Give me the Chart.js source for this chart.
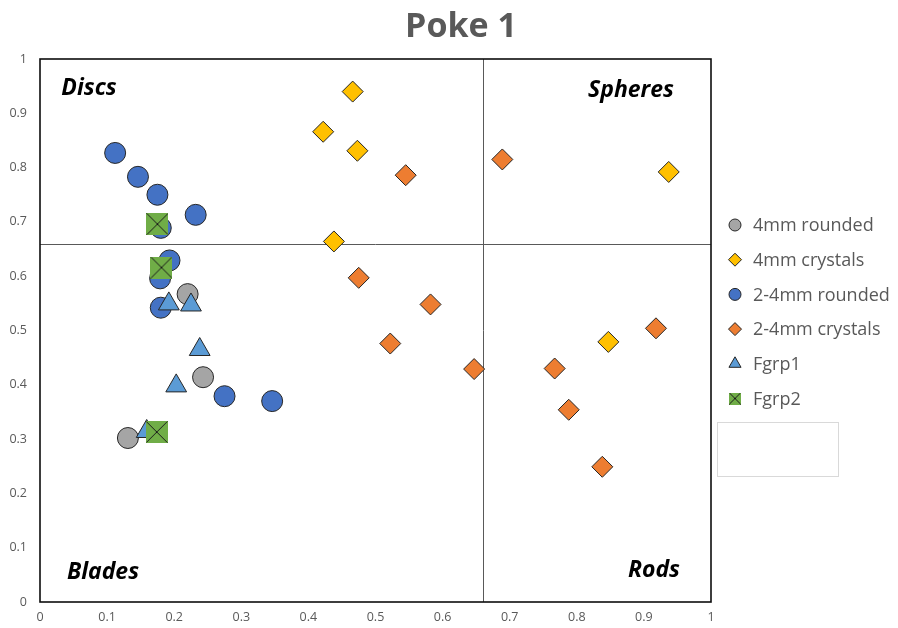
<!DOCTYPE html>
<html>
<head>
<meta charset="utf-8">
<script src="https://cdn.jsdelivr.net/npm/chart.js@4.4.1/dist/chart.umd.min.js"></script>
<style>
  html, body { margin: 0; padding: 0; background: #ffffff; }
  #wrap { width: 898px; height: 628px; }
</style>
</head>
<body>
<div id="wrap"><canvas id="c" width="898" height="628"></canvas></div>
<script>
// Shape factors (x = flatness-type index, y = elongation-type index) for each sample group
const seriesNames = ['4mm rounded', '4mm crystals', '2-4mm rounded', '2-4mm crystals', 'Fgrp1', 'Fgrp2'];

const rounded4X = [0.220, 0.243, 0.131];
const rounded4Y = [0.567, 0.414, 0.302];

const crystals4X = [0.466, 0.422, 0.473, 0.937, 0.438, 0.847];
const crystals4Y = [0.940, 0.866, 0.831, 0.792, 0.664, 0.479];

const rounded24X = [0.112, 0.146, 0.175, 0.232, 0.180, 0.193, 0.179, 0.180, 0.275, 0.346];
const rounded24Y = [0.827, 0.783, 0.750, 0.713, 0.689, 0.629, 0.596, 0.542, 0.379, 0.370];

const crystals24X = [0.545, 0.689, 0.475, 0.582, 0.522, 0.647, 0.767, 0.918, 0.788, 0.838];
const crystals24Y = [0.786, 0.815, 0.597, 0.548, 0.476, 0.429, 0.430, 0.504, 0.354, 0.249];

const fgrp1X = [0.192, 0.225, 0.238, 0.203, 0.159];
const fgrp1Y = [0.549, 0.547, 0.465, 0.398, 0.314];

const fgrp2X = [0.175, 0.181, 0.174];
const fgrp2Y = [0.696, 0.616, 0.313];

const tickLabels = ['0', '0.1', '0.2', '0.3', '0.4', '0.5', '0.6', '0.7', '0.8', '0.9', '1'];
const quadrantSplit = 0.66;
const quadrantNames = ['Discs', 'Spheres', 'Blades', 'Rods'];
const chartTitle = 'Poke 1';

const FONT = '"Open Sans", "DejaVu Sans", sans-serif';
const TEXT_GREY = '#595959';
const EDGE = '#262626';

function toPoints(xs, ys) {
  return xs.map((x, i) => ({ x: x, y: ys[i] }));
}

// Green square with a black X, used as the Fgrp2 marker
function boxCross(size) {
  const cv = document.createElement('canvas');
  cv.width = size; cv.height = size;
  const g = cv.getContext('2d');
  g.fillStyle = '#70AD47';
  g.fillRect(0, 0, size, size);
  g.strokeStyle = '#1a1a1a';
  g.lineWidth = 1;
  g.beginPath();
  g.moveTo(0.5, 0.5); g.lineTo(size - 0.5, size - 0.5);
  g.moveTo(size - 0.5, 0.5); g.lineTo(0.5, size - 0.5);
  g.stroke();
  return cv;
}
const crossBig = boxCross(22);
const crossSmall = boxCross(12);

const styles = [
  { fill: '#A5A5A5', shape: 'circle', r: 10.5, lr: 6 },
  { fill: '#FFC000', shape: 'rectRot', r: 10.5, lr: 6.5 },
  { fill: '#4472C4', shape: 'circle', r: 10.5, lr: 6 },
  { fill: '#ED7D31', shape: 'rectRot', r: 10.5, lr: 6.5 },
  { fill: '#5B9BD5', shape: 'triangle', r: 12, lr: 7 },
  { fill: '#70AD47', shape: crossBig, r: 11, lr: 6 }
];

const seriesData = [
  toPoints(rounded4X, rounded4Y),
  toPoints(crystals4X, crystals4Y),
  toPoints(rounded24X, rounded24Y),
  toPoints(crystals24X, crystals24Y),
  toPoints(fgrp1X, fgrp1Y),
  toPoints(fgrp2X, fgrp2Y)
];

const datasets = seriesNames.map((name, i) => ({
  label: name,
  data: seriesData[i],
  pointStyle: styles[i].shape,
  pointRadius: styles[i].r,
  pointHoverRadius: styles[i].r,
  pointBackgroundColor: styles[i].fill,
  pointBorderColor: EDGE,
  pointBorderWidth: 1,
  showLine: false,
  order: seriesNames.length - i   // later groups sit on top
}));

// Plot frame, quadrant dividers, labels, title and legend
const decorations = {
  id: 'decorations',
  beforeDatasetsDraw(chart) {
    const { ctx, chartArea: a, scales } = chart;
    const qx = scales.x.getPixelForValue(quadrantSplit);
    const qy = scales.y.getPixelForValue(quadrantSplit);
    ctx.save();
    ctx.strokeStyle = '#595959';
    ctx.lineWidth = 1;
    ctx.beginPath();
    ctx.moveTo(Math.round(qx) + 0.5, a.top);
    ctx.lineTo(Math.round(qx) + 0.5, a.bottom);
    ctx.moveTo(a.left, Math.round(qy) + 0.5);
    ctx.lineTo(a.right, Math.round(qy) + 0.5);
    ctx.stroke();

    ctx.strokeStyle = '#0d0d0d';
    ctx.lineWidth = 1.6;
    ctx.strokeRect(a.left, a.top, a.right - a.left, a.bottom - a.top);
    ctx.restore();
  },
  afterDatasetsDraw(chart) {
    const { ctx } = chart;
    ctx.save();
    // Quadrant names
    ctx.fillStyle = '#000000';
    ctx.font = 'italic 700 23px ' + FONT;
    ctx.textAlign = 'center';
    ctx.textBaseline = 'alphabetic';
    const spots = [[89, 95], [631, 97], [103, 579], [654, 577]];
    quadrantNames.forEach((t, i) => ctx.fillText(t, spots[i][0], spots[i][1]));

    // Title
    ctx.fillStyle = TEXT_GREY;
    ctx.font = '700 34px ' + FONT;
    ctx.fillText(chartTitle, 461, 37);

    // Legend
    ctx.textAlign = 'left';
    ctx.textBaseline = 'middle';
    ctx.font = '400 18px ' + FONT;
    const lx = 735, tx = 753, y0 = 225, dy = 34.7;
    seriesNames.forEach((name, i) => {
      const y = y0 + i * dy;
      const s = styles[i];
      ctx.fillStyle = s.fill;
      ctx.strokeStyle = EDGE;
      ctx.lineWidth = 1;
      if (s.shape === 'circle') {
        ctx.beginPath();
        ctx.arc(lx, y, s.lr, 0, Math.PI * 2);
        ctx.fill(); ctx.stroke();
      } else if (s.shape === 'rectRot') {
        ctx.beginPath();
        ctx.moveTo(lx - s.lr, y); ctx.lineTo(lx, y - s.lr);
        ctx.lineTo(lx + s.lr, y); ctx.lineTo(lx, y + s.lr);
        ctx.closePath();
        ctx.fill(); ctx.stroke();
      } else if (s.shape === 'triangle') {
        const r = s.lr;
        ctx.beginPath();
        ctx.moveTo(lx, y - r);
        ctx.lineTo(lx + r * 0.866, y + r / 2);
        ctx.lineTo(lx - r * 0.866, y + r / 2);
        ctx.closePath();
        ctx.fill(); ctx.stroke();
      } else {
        ctx.drawImage(crossSmall, lx - 6, y - 6);
      }
      ctx.fillStyle = TEXT_GREY;
      ctx.fillText(name, tx, y + 1);
    });

    // Empty legend entry box
    ctx.strokeStyle = '#d9d9d9';
    ctx.lineWidth = 1;
    ctx.strokeRect(717.5, 422.5, 121, 54);
    ctx.restore();
  }
};

new Chart(document.getElementById('c'), {
  type: 'scatter',
  data: { datasets: datasets },
  options: {
    responsive: false,
    animation: false,
    events: [],
    layout: { padding: { left: 0, top: 59, right: 187, bottom: 0 } },
    plugins: {
      legend: { display: false },
      title: { display: false },
      tooltip: { enabled: false }
    },
    scales: {
      x: {
        type: 'linear', min: 0, max: 1,
        grid: { display: false, drawTicks: false },
        border: { display: false },
        ticks: {
          stepSize: 0.1, padding: 8, color: TEXT_GREY,
          font: { family: FONT, size: 12.5 },
          maxRotation: 0, autoSkip: false,
          callback: (v, i) => tickLabels[i]
        },
        afterFit: (s) => { s.height = 26; }
      },
      y: {
        type: 'linear', min: 0, max: 1,
        grid: { display: false, drawTicks: false },
        border: { display: false },
        ticks: {
          stepSize: 0.1, padding: 13, color: TEXT_GREY,
          font: { family: FONT, size: 12.5 },
          autoSkip: false,
          callback: (v, i) => tickLabels[i]
        },
        afterFit: (s) => { s.width = 40; }
      }
    }
  },
  plugins: [decorations]
});
</script>
</body>
</html>
